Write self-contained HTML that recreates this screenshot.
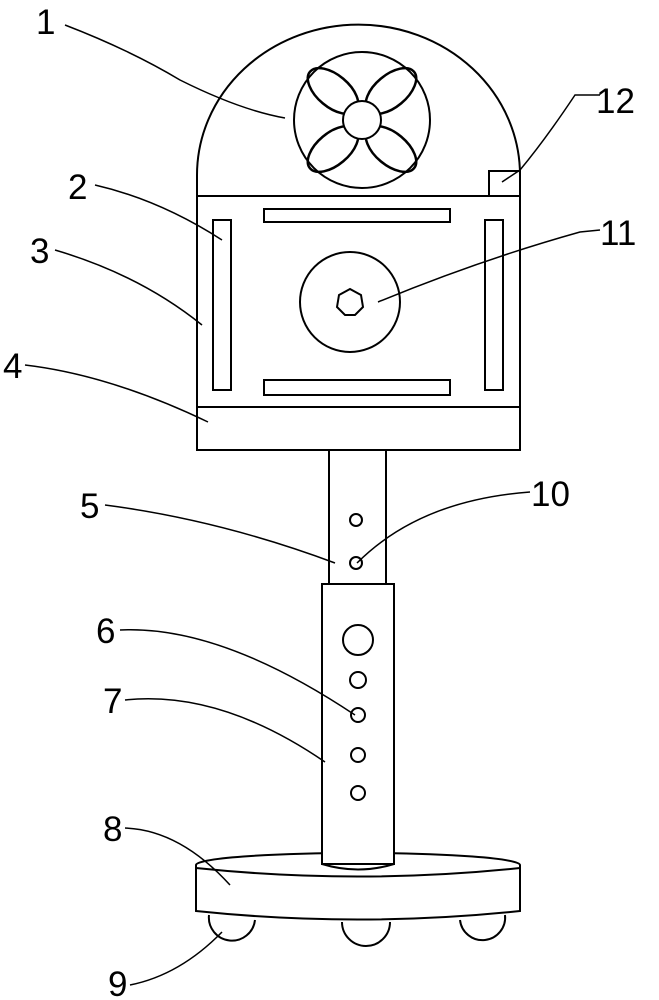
<!DOCTYPE html>
<html><head><style>body{margin:0;background:#fff}svg{display:block}text{font-family:"Liberation Sans",sans-serif;font-size:35px;fill:#000}</style></head>
<body><svg width="659" height="1000" viewBox="0 0 659 1000" fill="none" stroke="#000" stroke-width="2">
<path d="M197,196 L197,175 A161,150 0 0 1 520,175 L520,196"/>
<circle cx="362" cy="120" r="68"/>
<g stroke-width="2.5">
<ellipse cx="333" cy="91" rx="30" ry="16" transform="rotate(40 333 91)"/>
<ellipse cx="391" cy="91" rx="30" ry="16" transform="rotate(-40 391 91)"/>
<ellipse cx="333" cy="149" rx="30" ry="16" transform="rotate(-40 333 149)"/>
<ellipse cx="391" cy="149" rx="30" ry="16" transform="rotate(40 391 149)"/>
</g>
<circle cx="362" cy="120" r="19" fill="#fff"/>
<rect x="489" y="171" width="31" height="25"/>
<rect x="197" y="196" width="323" height="254"/>
<line x1="197" y1="407" x2="520" y2="407"/>
<rect x="213" y="220" width="18" height="170"/>
<rect x="485" y="220" width="18" height="170"/>
<rect x="264" y="209" width="186" height="13"/>
<rect x="264" y="380" width="186" height="15"/>
<circle cx="350" cy="302" r="50"/>
<polygon points="350,289 361,295 363,307 355,315 345,315 337,307 339,295"/>
<rect x="329" y="450" width="57" height="134"/>
<circle cx="356" cy="520" r="6"/><circle cx="356" cy="563" r="6"/>
<path d="M196,865 A162,12 0 0 1 520,865 L520,911 Q358,928 196,911 Z"/>
<path d="M196,868 Q358,885 520,868"/>
<rect x="322" y="584" width="72" height="280" fill="#fff"/>
<path d="M322,864 Q358,875 394,864"/>
<circle cx="358" cy="640" r="15"/>
<circle cx="358" cy="680" r="8"/><circle cx="358" cy="715" r="7"/><circle cx="358" cy="755" r="7"/><circle cx="358" cy="793" r="7"/>
<path d="M209,915 A21,21 0 0 0 255,920"/>
<path d="M342,922 A22,22 0 0 0 390,922"/>
<path d="M460,920 A22,22 0 0 0 505,915"/>
<g stroke-width="1.5">
<path d="M65,25 Q130,50 180,80 Q240,110 285,118"/>
<path d="M600,95 L575,95 Q545,140 520,170 L502,182"/>
<path d="M95,185 Q160,200 222,240"/>
<path d="M55,250 Q140,275 202,325"/>
<path d="M600,230 L580,232 Q480,260 378,302"/>
<path d="M25,365 Q110,375 208,422"/>
<path d="M105,505 Q220,520 335,563"/>
<path d="M530,492 Q420,500 357,563"/>
<path d="M120,630 Q220,625 355,715"/>
<path d="M125,700 Q220,690 325,762"/>
<path d="M125,828 Q180,830 230,885"/>
<path d="M130,985 Q180,975 222,932"/>
</g>
<g stroke="none">
<text x="36" y="34">1</text>
<text x="596" y="113">12</text>
<text x="68" y="199">2</text>
<text x="30" y="263">3</text>
<text x="600" y="245">11</text>
<text x="3" y="378">4</text>
<text x="80" y="518">5</text>
<text x="531" y="506">10</text>
<text x="96" y="643">6</text>
<text x="103" y="713">7</text>
<text x="103" y="841">8</text>
<text x="108" y="996">9</text>
</g>
</svg></body></html>
